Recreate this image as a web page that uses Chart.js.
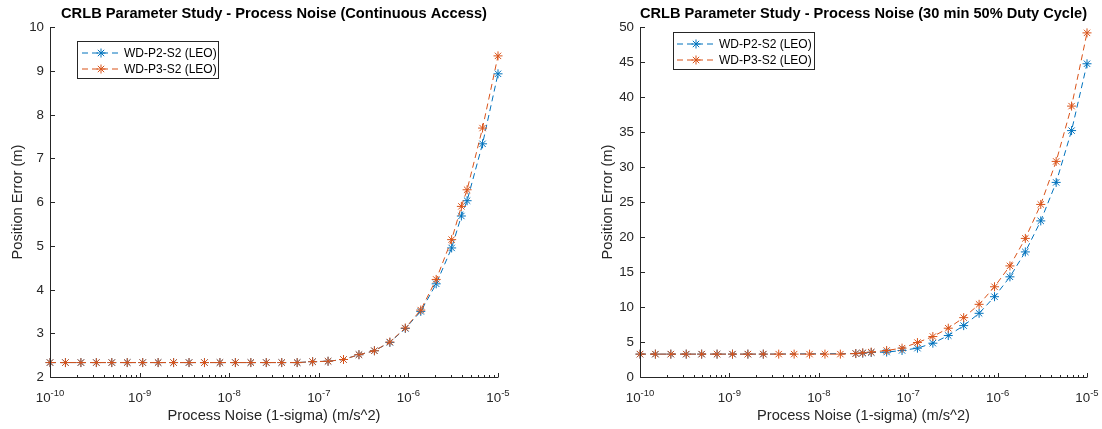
<!DOCTYPE html>
<html><head><meta charset="utf-8">
<script src="https://cdn.jsdelivr.net/npm/chart.js@4.4.0/dist/chart.umd.min.js"></script>
<style>
html,body{margin:0;padding:0;background:#fff;width:1102px;height:429px;overflow:hidden}
.box{position:absolute;top:0;width:551px;height:429px}
#w1{left:0}
#w2{left:551px}
canvas{display:block}
</style></head><body>
<div class="box" id="w1"><canvas id="c1" width="551" height="429"></canvas></div>
<div class="box" id="w2"><canvas id="c2" width="551" height="429"></canvas></div>
<script>
// ---------------- DATA ----------------
const seriesLabels = ['WD-P2-S2 (LEO)', 'WD-P3-S2 (LEO)'];
const xTickExponents = [-10, -9, -8, -7, -6, -5];
const contTicksY = [2, 3, 4, 5, 6, 7, 8, 9, 10];
const dutyTicksY = [0, 5, 10, 15, 20, 25, 30, 35, 40, 45, 50];

// Continuous access (left)
const contNoise = [1.000e-10, 1.487e-10, 2.212e-10, 3.290e-10, 4.894e-10, 7.279e-10, 1.083e-9, 1.610e-9,
  2.395e-9, 3.562e-9, 5.298e-9, 7.880e-9, 1.172e-8, 1.743e-8, 2.593e-8, 3.857e-8, 5.737e-8, 8.531e-8,
  1.269e-7, 1.887e-7, 2.807e-7, 4.175e-7, 6.210e-7, 9.237e-7, 1.374e-6, 2.043e-6, 3.039e-6, 3.900e-6,
  4.520e-6, 6.723e-6, 1.000e-5];
const contP2 = [2.33, 2.33, 2.33, 2.33, 2.33, 2.33, 2.33, 2.33, 2.33, 2.33, 2.33, 2.33, 2.33, 2.33, 2.33, 2.33, 2.33, 2.35,
  2.36, 2.40, 2.51, 2.60, 2.79, 3.11, 3.50, 4.13, 4.95, 5.68, 6.03, 7.33, 8.93];
const contP3 = [2.33, 2.33, 2.33, 2.33, 2.33, 2.33, 2.33, 2.33, 2.33, 2.33, 2.33, 2.33, 2.33, 2.33, 2.33, 2.33, 2.33, 2.35,
  2.36, 2.40, 2.51, 2.60, 2.80, 3.12, 3.53, 4.23, 5.14, 5.90, 6.28, 7.69, 9.34];

// 30 min 50% duty cycle (right)
const dutyNoiseP2 = [1.000e-10, 1.487e-10, 2.212e-10, 3.290e-10, 4.894e-10, 7.279e-10, 1.083e-9, 1.610e-9,
  2.395e-9, 2.593e-8, 3.100e-8, 3.857e-8, 5.737e-8, 8.531e-8, 1.269e-7, 1.887e-7, 2.807e-7, 4.175e-7,
  6.210e-7, 9.237e-7, 1.374e-6, 2.043e-6, 3.039e-6, 4.520e-6, 6.723e-6, 1.000e-5];
const dutyP2 = [3.27, 3.27, 3.27, 3.27, 3.27, 3.27, 3.27, 3.27, 3.27, 3.35, 3.41, 3.50, 3.56, 3.79, 4.12, 4.83,
  5.92, 7.34, 9.10, 11.47, 14.31, 17.87, 22.3, 27.8, 35.2, 44.75];
const dutyNoiseP3 = [1.000e-10, 1.487e-10, 2.212e-10, 3.290e-10, 4.894e-10, 7.279e-10, 1.083e-9, 1.610e-9,
  2.395e-9, 3.562e-9, 5.298e-9, 7.880e-9, 1.172e-8, 1.743e-8, 2.593e-8, 3.100e-8, 3.857e-8, 5.737e-8,
  8.531e-8, 1.269e-7, 1.887e-7, 2.807e-7, 4.175e-7, 6.210e-7, 9.237e-7, 1.374e-6, 2.043e-6, 3.039e-6,
  4.520e-6, 6.723e-6, 1.000e-5];
const dutyP3 = [3.27, 3.27, 3.27, 3.27, 3.27, 3.27, 3.27, 3.27, 3.27, 3.27, 3.27, 3.27, 3.27, 3.27, 3.35, 3.45,
  3.56, 3.79, 4.12, 4.92, 5.78, 6.97, 8.48, 10.38, 12.89, 15.87, 19.8, 24.65, 30.8, 38.7, 49.16];

// ---------------- STYLE ----------------
const FONT = '"Liberation Sans", Arial, Helvetica, sans-serif';
const AXIS = '#262626';
const seriesColors = ['#0072BD', '#D95319'];

function pts(xs, ys) { return xs.map((x, i) => ({ x: x, y: ys[i] })); }
function dsStyle(k) {
  return {
    showLine: true, borderColor: seriesColors[k], backgroundColor: seriesColors[k],
    borderWidth: 1, borderDash: [6, 4], pointStyle: 'star', pointRadius: 4.5,
    pointBorderWidth: 1, pointBorderColor: seriesColors[k], pointHoverRadius: 4.5,
    tension: 0, clip: false
  };
}
function drawStar(ctx, x, y, r) {
  const d = r * Math.SQRT1_2;
  ctx.beginPath();
  ctx.moveTo(x - r, y); ctx.lineTo(x + r, y);
  ctx.moveTo(x, y - r); ctx.lineTo(x, y + r);
  ctx.moveTo(x - d, y - d); ctx.lineTo(x + d, y + d);
  ctx.moveTo(x - d, y + d); ctx.lineTo(x + d, y - d);
  ctx.stroke();
}

function axesPlugin(o) {
  return {
    id: 'matAxes',
    afterDraw(chart) {
      const ctx = chart.ctx, xs = chart.scales.x, ys = chart.scales.y, a = chart.chartArea;
      ctx.save();
      ctx.strokeStyle = AXIS; ctx.fillStyle = AXIS; ctx.lineWidth = 1; ctx.setLineDash([]);
      const L = a.left + 0.5, B = a.bottom + 0.5;
      // axis lines
      ctx.beginPath();
      ctx.moveTo(L, a.top); ctx.lineTo(L, B);
      ctx.lineTo(a.right, B);
      ctx.stroke();
      // x ticks (inward)
      ctx.beginPath();
      xTickExponents.forEach((e, idx) => {
        const px = Math.round(xs.getPixelForValue(Math.pow(10, e))) + 0.5;
        ctx.moveTo(px, B); ctx.lineTo(px, B - 4.5);
        if (idx < xTickExponents.length - 1) {
          for (let m = 2; m <= 9; m++) {
            const mx = Math.round(xs.getPixelForValue(m * Math.pow(10, e))) + 0.5;
            ctx.moveTo(mx, B); ctx.lineTo(mx, B - 2.5);
          }
        }
      });
      // y ticks (inward)
      o.yTicks.forEach(v => {
        const py = Math.round(ys.getPixelForValue(v)) + 0.5;
        ctx.moveTo(L, py); ctx.lineTo(L + 4.5, py);
      });
      ctx.stroke();
      // y tick labels
      ctx.font = '13.33px ' + FONT;
      ctx.textAlign = 'right'; ctx.textBaseline = 'middle';
      o.yTicks.forEach(v => {
        ctx.fillText(String(v), a.left - 6, ys.getPixelForValue(v) + 0.5);
      });
      // x tick labels 10^e
      ctx.textBaseline = 'alphabetic'; ctx.textAlign = 'left';
      xTickExponents.forEach(e => {
        const px = xs.getPixelForValue(Math.pow(10, e));
        ctx.font = '13.33px ' + FONT;
        const w1 = ctx.measureText('10').width;
        ctx.font = '9.5px ' + FONT;
        const es = String(e);
        const w2 = ctx.measureText(es).width;
        const x0 = px - (w1 + w2) / 2;
        ctx.font = '13.33px ' + FONT;
        ctx.fillText('10', x0, a.bottom + 25);
        ctx.font = '9.5px ' + FONT;
        ctx.fillText(es, x0 + w1, a.bottom + 18.5);
      });
      // axis labels
      ctx.font = '14.67px ' + FONT;
      ctx.textAlign = 'center'; ctx.textBaseline = 'middle';
      ctx.fillText(o.xLabel, (a.left + a.right) / 2, a.bottom + 38.5);
      ctx.save();
      ctx.translate(o.yLabelX, (a.top + a.bottom) / 2);
      ctx.rotate(-Math.PI / 2);
      ctx.fillText(o.yLabel, 0, 0);
      ctx.restore();
      // legend
      const g = o.leg;
      ctx.fillStyle = '#fff';
      ctx.fillRect(g.x, g.y, g.w, g.h);
      ctx.strokeStyle = AXIS; ctx.lineWidth = 1;
      ctx.strokeRect(g.x, g.y, g.w, g.h);
      chart.data.datasets.forEach((ds, k) => {
        const ry = g.rows[k];
        ctx.strokeStyle = seriesColors[k]; ctx.lineWidth = 1;
        ctx.setLineDash([6, 4]);
        ctx.beginPath(); ctx.moveTo(g.l0, ry); ctx.lineTo(g.l1, ry); ctx.stroke();
        ctx.setLineDash([]);
        drawStar(ctx, (g.l0 + g.l1) / 2, ry, 4.5);
        ctx.fillStyle = '#000';
        ctx.font = '12px ' + FONT;
        ctx.textAlign = 'left'; ctx.textBaseline = 'middle';
        ctx.fillText(ds.label, g.tx, ry + 0.5);
      });
      ctx.restore();
    }
  };
}

function makeChart(id, o) {
  return new Chart(document.getElementById(id), {
    type: 'scatter',
    data: {
      datasets: [
        Object.assign({ label: seriesLabels[0], data: pts(o.x1, o.y1), order: 1 }, dsStyle(0)),
        Object.assign({ label: seriesLabels[1], data: pts(o.x2, o.y2), order: 0 }, dsStyle(1))
      ]
    },
    options: {
      responsive: false, animation: false, events: [],
      layout: { padding: o.pad },
      plugins: {
        legend: { display: false }, tooltip: { enabled: false },
        title: {
          display: true, text: o.title, fullSize: false, color: '#000',
          font: { family: FONT, size: 14.67, weight: 'bold' },
          padding: { top: 5.5, bottom: 3.9 }
        }
      },
      scales: {
        x: { type: 'logarithmic', min: 1e-10, max: 1e-5, display: false },
        y: { type: 'linear', min: o.ymin, max: o.ymax, display: false }
      }
    },
    plugins: [axesPlugin(o)]
  });
}

makeChart('c1', {
  title: 'CRLB Parameter Study - Process Noise (Continuous Access)',
  x1: contNoise, y1: contP2, x2: contNoise, y2: contP3,
  ymin: 2, ymax: 10, yTicks: contTicksY,
  pad: { left: 50, right: 53, top: 0, bottom: 52 },
  xLabel: 'Process Noise (1-sigma) (m/s^2)', yLabel: 'Position Error (m)', yLabelX: 18,
  leg: { x: 77.5, y: 41.5, w: 141, h: 37, rows: [53, 69], l0: 82, l1: 120, tx: 124 }
});
makeChart('c2', {
  title: 'CRLB Parameter Study - Process Noise (30 min 50% Duty Cycle)',
  x1: dutyNoiseP2, y1: dutyP2, x2: dutyNoiseP3, y2: dutyP3,
  ymin: 0, ymax: 50, yTicks: dutyTicksY,
  pad: { left: 89, right: 15, top: 0, bottom: 52 },
  xLabel: 'Process Noise (1-sigma) (m/s^2)', yLabel: 'Position Error (m)', yLabelX: 57,
  leg: { x: 122.5, y: 32.5, w: 141, h: 37, rows: [44, 60], l0: 126, l1: 164, tx: 168 }
});
</script>
</body></html>
